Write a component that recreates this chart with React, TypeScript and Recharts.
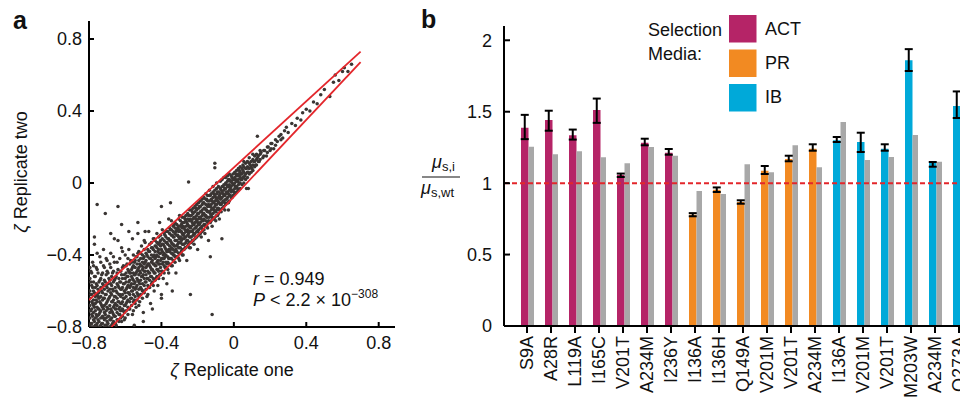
import React from "react";
import {
  ScatterChart,
  Scatter,
  BarChart,
  Bar,
  Cell,
  ErrorBar,
  XAxis,
  YAxis,
  ReferenceLine,
} from "recharts";

// ---- panel a: zeta replicate one (x) vs replicate two (y) ----
const lowerCloud: [number, number][] = [
  [-0.79,-0.78],[-0.79,-0.71],[-0.79,-0.62],[-0.79,-0.55],[-0.79,-0.49],[-0.78,-0.8],[-0.78,-0.74],[-0.78,-0.67],
  [-0.78,-0.58],[-0.78,-0.44],[-0.77,-0.77],[-0.77,-0.69],[-0.77,-0.61],[-0.77,-0.52],[-0.77,-0.34],[-0.76,-0.79],
  [-0.76,-0.73],[-0.76,-0.65],[-0.76,-0.56],[-0.76,-0.47],[-0.75,-0.76],[-0.75,-0.7],[-0.75,-0.63],[-0.75,-0.59],
  [-0.75,-0.5],[-0.74,-0.8],[-0.74,-0.72],[-0.74,-0.66],[-0.74,-0.54],[-0.74,-0.41],[-0.73,-0.78],[-0.73,-0.68],
  [-0.73,-0.6],[-0.73,-0.51],[-0.72,-0.75],[-0.72,-0.7],[-0.72,-0.64],[-0.72,-0.57],[-0.72,-0.46],[-0.72,-0.37],
  [-0.71,-0.79],[-0.71,-0.73],[-0.71,-0.62],[-0.71,-0.55],[-0.7,-0.77],[-0.7,-0.69],[-0.7,-0.66],[-0.7,-0.58],
  [-0.7,-0.49],[-0.7,-0.43],[-0.69,-0.8],[-0.69,-0.74],[-0.69,-0.64],[-0.69,-0.53],[-0.68,-0.76],[-0.68,-0.7],
  [-0.68,-0.61],[-0.68,-0.56],[-0.68,-0.47],[-0.68,-0.39],[-0.67,-0.78],[-0.67,-0.72],[-0.67,-0.66],[-0.67,-0.59],
  [-0.67,-0.5],[-0.66,-0.74],[-0.66,-0.68],[-0.66,-0.63],[-0.66,-0.54],[-0.66,-0.44],[-0.66,-0.31],[-0.65,-0.79],
  [-0.65,-0.7],[-0.65,-0.6],[-0.65,-0.52],[-0.64,-0.76],[-0.64,-0.66],[-0.64,-0.57],[-0.64,-0.48],[-0.63,-0.73],
  [-0.63,-0.69],[-0.63,-0.62],[-0.63,-0.55],[-0.63,-0.42],[-0.62,-0.77],[-0.62,-0.67],[-0.62,-0.59],[-0.62,-0.51],
  [-0.62,-0.36],[-0.61,-0.71],[-0.61,-0.64],[-0.61,-0.56],[-0.61,-0.46],[-0.6,-0.75],[-0.6,-0.68],[-0.6,-0.61],
  [-0.6,-0.53],[-0.6,-0.4],
];

const middleBand: [number, number][] = [
  [-0.59,-0.66],[-0.59,-0.58],[-0.59,-0.52],[-0.59,-0.45],[-0.58,-0.7],[-0.58,-0.61],[-0.58,-0.55],[-0.58,-0.49],
  [-0.58,-0.37],[-0.57,-0.64],[-0.57,-0.57],[-0.57,-0.5],[-0.57,-0.43],[-0.56,-0.73],[-0.56,-0.6],[-0.56,-0.53],
  [-0.56,-0.47],[-0.56,-0.31],[-0.55,-0.65],[-0.55,-0.56],[-0.55,-0.51],[-0.55,-0.44],[-0.54,-0.69],[-0.54,-0.58],
  [-0.54,-0.5],[-0.54,-0.41],[-0.53,-0.62],[-0.53,-0.54],[-0.53,-0.48],[-0.53,-0.39],[-0.53,-0.28],[-0.52,-0.66],
  [-0.52,-0.56],[-0.52,-0.49],[-0.52,-0.45],[-0.51,-0.59],[-0.51,-0.52],[-0.51,-0.46],[-0.51,-0.35],[-0.5,-0.72],
  [-0.5,-0.6],[-0.5,-0.51],[-0.5,-0.47],[-0.5,-0.42],[-0.49,-0.55],[-0.49,-0.49],[-0.49,-0.44],[-0.49,-0.33],
  [-0.48,-0.63],[-0.48,-0.53],[-0.48,-0.46],[-0.48,-0.4],[-0.47,-0.58],[-0.47,-0.5],[-0.47,-0.45],[-0.47,-0.38],
  [-0.47,-0.27],[-0.46,-0.67],[-0.46,-0.52],[-0.46,-0.47],[-0.46,-0.42],[-0.45,-0.55],[-0.45,-0.48],[-0.45,-0.43],
  [-0.45,-0.36],[-0.44,-0.6],[-0.44,-0.5],[-0.44,-0.45],[-0.44,-0.4],[-0.44,-0.31],[-0.43,-0.53],[-0.43,-0.46],
  [-0.43,-0.41],[-0.43,-0.35],[-0.42,-0.57],[-0.42,-0.48],[-0.42,-0.43],[-0.42,-0.38],[-0.41,-0.51],[-0.41,-0.45],
  [-0.41,-0.39],[-0.41,-0.33],[-0.41,-0.22],[-0.4,-0.62],[-0.4,-0.49],[-0.4,-0.42],[-0.4,-0.37],[-0.39,-0.53],
  [-0.39,-0.44],[-0.39,-0.4],[-0.39,-0.34],[-0.38,-0.47],[-0.38,-0.41],[-0.38,-0.36],[-0.38,-0.29],[-0.37,-0.56],
  [-0.37,-0.45],[-0.37,-0.38],[-0.37,-0.33],[-0.36,-0.5],[-0.36,-0.42],[-0.36,-0.37],[-0.36,-0.31],[-0.36,-0.2],
];

const upperBand: [number, number][] = [
  [-0.35,-0.42],[-0.35,-0.37],[-0.35,-0.32],[-0.35,-0.26],[-0.34,-0.46],[-0.34,-0.39],[-0.34,-0.34],[-0.34,-0.29],
  [-0.33,-0.4],[-0.33,-0.35],[-0.33,-0.3],[-0.33,-0.23],[-0.32,-0.5],[-0.32,-0.37],[-0.32,-0.32],[-0.32,-0.27],
  [-0.31,-0.41],[-0.31,-0.34],[-0.31,-0.29],[-0.31,-0.25],[-0.3,-0.43],[-0.3,-0.36],[-0.3,-0.31],[-0.3,-0.26],
  [-0.3,-0.18],[-0.29,-0.38],[-0.29,-0.32],[-0.29,-0.27],[-0.29,-0.23],[-0.28,-0.4],[-0.28,-0.34],[-0.28,-0.29],
  [-0.28,-0.24],[-0.27,-0.36],[-0.27,-0.3],[-0.27,-0.26],[-0.27,-0.2],[-0.26,-0.43],[-0.26,-0.32],[-0.26,-0.27],
  [-0.26,-0.22],[-0.25,-0.34],[-0.25,-0.28],[-0.25,-0.24],[-0.25,-0.18],[-0.24,-0.36],[-0.24,-0.3],[-0.24,-0.25],
  [-0.24,-0.2],[-0.23,-0.32],[-0.23,-0.27],[-0.23,-0.22],[-0.23,-0.16],[-0.22,-0.34],[-0.22,-0.28],[-0.22,-0.23],
  [-0.22,-0.19],[-0.21,-0.3],[-0.21,-0.25],[-0.21,-0.2],[-0.21,-0.14],[-0.2,-0.37],[-0.2,-0.27],[-0.2,-0.22],
  [-0.2,-0.17],[-0.19,-0.28],[-0.19,-0.23],[-0.19,-0.19],[-0.19,-0.13],[-0.18,-0.3],[-0.18,-0.25],[-0.18,-0.2],
  [-0.18,-0.16],[-0.17,-0.26],[-0.17,-0.21],[-0.17,-0.17],[-0.17,-0.11],[-0.16,-0.28],[-0.16,-0.23],[-0.16,-0.18],
  [-0.16,-0.14],[-0.15,-0.24],[-0.15,-0.19],[-0.15,-0.15],[-0.15,-0.09],[-0.14,-0.32],[-0.14,-0.21],[-0.14,-0.16],
  [-0.14,-0.12],[-0.13,-0.22],[-0.13,-0.17],[-0.13,-0.13],[-0.13,-0.07],[-0.12,-0.24],[-0.12,-0.19],[-0.12,-0.14],
  [-0.12,-0.1],[-0.11,-0.2],[-0.11,-0.15],[-0.11,-0.11],[-0.11,-0.06],[-0.1,-0.21],[-0.1,-0.16],[-0.1,-0.12],
  [-0.1,-0.08],
];

const nearZero: [number, number][] = [
  [-0.09,-0.18],[-0.09,-0.14],[-0.09,-0.1],[-0.09,-0.05],[-0.08,-0.2],[-0.08,-0.15],[-0.08,-0.11],[-0.08,-0.07],
  [-0.07,-0.16],[-0.07,-0.12],[-0.07,-0.08],[-0.07,-0.04],[-0.06,-0.14],[-0.06,-0.1],[-0.06,-0.06],[-0.06,-0.02],
  [-0.05,-0.15],[-0.05,-0.11],[-0.05,-0.07],[-0.05,-0.03],[-0.04,-0.09],[-0.04,-0.05],[-0.04,-0.01],[-0.03,-0.11],
  [-0.03,-0.06],[-0.03,-0.02],[-0.03,0.02],[-0.02,-0.07],[-0.02,-0.03],[-0.02,0.01],[-0.01,-0.08],[-0.01,-0.04],
  [-0.01,0],[-0.01,0.03],[0,-0.05],[0,-0.01],[0,0.02],[0.01,-0.02],[0.01,0.02],[0.01,0.05],[0.02,-0.03],
  [0.02,0.01],[0.02,0.04],[0.03,0],[0.03,0.04],[0.03,0.07],[0.04,0.02],[0.04,0.05],[0.05,0.03],[0.05,0.07],
  [0.05,0.1],
];

// extra columns of the dense core: [zeta one, zeta two values at that x]
const coreColumns: [number, number[]][] = [
  [-0.795, [-0.79,-0.75,-0.71,-0.68,-0.64,-0.6,-0.53,-0.47]],
  [-0.785, [-0.78,-0.73,-0.7,-0.66,-0.62,-0.57,-0.5]],
  [-0.775, [-0.8,-0.76,-0.72,-0.68,-0.65,-0.6,-0.55,-0.46]],
  [-0.765, [-0.79,-0.75,-0.71,-0.67,-0.63,-0.58,-0.52]],
  [-0.755, [-0.78,-0.74,-0.69,-0.66,-0.62,-0.57,-0.48,-0.39]],
  [-0.745, [-0.8,-0.77,-0.73,-0.7,-0.64,-0.61,-0.55]],
  [-0.735, [-0.79,-0.75,-0.71,-0.67,-0.63,-0.58,-0.53,-0.44]],
  [-0.725, [-0.78,-0.74,-0.69,-0.65,-0.61,-0.56,-0.5]],
  [-0.715, [-0.8,-0.76,-0.72,-0.68,-0.64,-0.59,-0.54,-0.47]],
  [-0.705, [-0.79,-0.75,-0.71,-0.67,-0.62,-0.57,-0.51,-0.42]],
  [-0.695, [-0.78,-0.74,-0.7,-0.65,-0.6,-0.56,-0.5]],
  [-0.685, [-0.8,-0.76,-0.72,-0.68,-0.63,-0.59,-0.54,-0.45]],
  [-0.675, [-0.79,-0.75,-0.71,-0.66,-0.62,-0.57,-0.52]],
  [-0.665, [-0.77,-0.73,-0.69,-0.65,-0.6,-0.55,-0.49,-0.41]],
  [-0.655, [-0.78,-0.74,-0.7,-0.67,-0.63,-0.58,-0.53]],
  [-0.645, [-0.76,-0.72,-0.68,-0.64,-0.61,-0.56,-0.5,-0.44]],
  [-0.635, [-0.77,-0.73,-0.7,-0.66,-0.62,-0.58,-0.53]],
  [-0.625, [-0.75,-0.71,-0.67,-0.63,-0.59,-0.55,-0.49]],
  [-0.615, [-0.74,-0.7,-0.66,-0.62,-0.58,-0.53,-0.47,-0.38]],
  [-0.605, [-0.76,-0.72,-0.68,-0.64,-0.6,-0.56,-0.51]],
  [-0.595, [-0.71,-0.67,-0.63,-0.59,-0.55,-0.5,-0.46]],
  [-0.585, [-0.73,-0.69,-0.65,-0.61,-0.57,-0.52,-0.48,-0.42]],
  [-0.575, [-0.7,-0.66,-0.62,-0.58,-0.54,-0.5,-0.45]],
  [-0.565, [-0.68,-0.64,-0.6,-0.56,-0.52,-0.48,-0.44]],
  [-0.555, [-0.71,-0.66,-0.62,-0.58,-0.54,-0.5,-0.46,-0.4]],
  [-0.545, [-0.67,-0.63,-0.59,-0.55,-0.51,-0.47,-0.43]],
  [-0.535, [-0.65,-0.61,-0.57,-0.53,-0.49,-0.45,-0.41]],
  [-0.525, [-0.68,-0.63,-0.59,-0.55,-0.51,-0.47,-0.43,-0.38]],
  [-0.515, [-0.62,-0.58,-0.54,-0.5,-0.46,-0.42,-0.39]],
  [-0.505, [-0.64,-0.6,-0.56,-0.52,-0.48,-0.44,-0.4]],
  [-0.495, [-0.61,-0.57,-0.53,-0.49,-0.45,-0.41,-0.37,-0.32]],
  [-0.485, [-0.59,-0.55,-0.51,-0.47,-0.43,-0.39]],
  [-0.475, [-0.62,-0.57,-0.53,-0.49,-0.45,-0.41,-0.37]],
  [-0.465, [-0.58,-0.54,-0.5,-0.46,-0.42,-0.38,-0.34]],
  [-0.455, [-0.56,-0.52,-0.48,-0.44,-0.4,-0.36,-0.33]],
  [-0.445, [-0.57,-0.53,-0.49,-0.45,-0.41,-0.37,-0.31]],
  [-0.435, [-0.54,-0.5,-0.46,-0.42,-0.38,-0.35,-0.32]],
  [-0.425, [-0.52,-0.48,-0.44,-0.4,-0.36,-0.33,-0.28]],
  [-0.415, [-0.53,-0.49,-0.45,-0.41,-0.37,-0.34,-0.3]],
  [-0.405, [-0.51,-0.47,-0.43,-0.39,-0.35,-0.32,-0.29]],
  [-0.395, [-0.49,-0.45,-0.42,-0.38,-0.34,-0.31,-0.26]],
  [-0.385, [-0.5,-0.46,-0.42,-0.39,-0.35,-0.32,-0.28]],
  [-0.375, [-0.47,-0.44,-0.4,-0.37,-0.33,-0.3,-0.27]],
  [-0.365, [-0.48,-0.44,-0.41,-0.38,-0.34,-0.31,-0.27]],
  [-0.355, [-0.45,-0.42,-0.38,-0.35,-0.32,-0.28,-0.25]],
  [-0.345, [-0.46,-0.42,-0.39,-0.36,-0.33,-0.29,-0.26,-0.21]],
  [-0.335, [-0.43,-0.4,-0.37,-0.34,-0.3,-0.27,-0.24]],
  [-0.325, [-0.44,-0.41,-0.38,-0.35,-0.32,-0.28,-0.25,-0.22]],
  [-0.315, [-0.41,-0.38,-0.35,-0.32,-0.29,-0.26,-0.23]],
  [-0.305, [-0.42,-0.39,-0.36,-0.33,-0.3,-0.27,-0.24,-0.2]],
  [-0.295, [-0.39,-0.36,-0.33,-0.3,-0.27,-0.24,-0.21]],
  [-0.285, [-0.4,-0.37,-0.34,-0.31,-0.28,-0.25,-0.22,-0.19]],
  [-0.275, [-0.37,-0.34,-0.31,-0.28,-0.25,-0.22,-0.19]],
  [-0.265, [-0.36,-0.33,-0.3,-0.27,-0.24,-0.21,-0.18]],
  [-0.255, [-0.35,-0.32,-0.29,-0.26,-0.23,-0.2,-0.17]],
  [-0.245, [-0.36,-0.33,-0.3,-0.27,-0.24,-0.21,-0.18,-0.15]],
  [-0.235, [-0.33,-0.3,-0.27,-0.24,-0.21,-0.18,-0.15]],
  [-0.225, [-0.32,-0.29,-0.26,-0.23,-0.2,-0.17,-0.14]],
  [-0.215, [-0.31,-0.28,-0.25,-0.22,-0.19,-0.16,-0.13]],
  [-0.205, [-0.3,-0.27,-0.24,-0.21,-0.18,-0.15,-0.12]],
  [-0.195, [-0.29,-0.26,-0.23,-0.2,-0.17,-0.14,-0.11]],
  [-0.185, [-0.28,-0.25,-0.22,-0.19,-0.16,-0.13,-0.1]],
  [-0.175, [-0.27,-0.24,-0.21,-0.18,-0.15,-0.12,-0.09]],
  [-0.165, [-0.26,-0.23,-0.2,-0.17,-0.14,-0.11,-0.08]],
  [-0.155, [-0.24,-0.21,-0.18,-0.15,-0.12,-0.09,-0.06]],
  [-0.145, [-0.25,-0.22,-0.19,-0.16,-0.13,-0.1,-0.07]],
  [-0.135, [-0.22,-0.19,-0.16,-0.13,-0.1,-0.07,-0.04]],
  [-0.125, [-0.21,-0.18,-0.15,-0.12,-0.09,-0.06]],
  [-0.115, [-0.2,-0.17,-0.14,-0.11,-0.08,-0.05,-0.02]],
  [-0.105, [-0.19,-0.16,-0.13,-0.1,-0.07,-0.04]],
  [-0.095, [-0.18,-0.15,-0.12,-0.09,-0.06,-0.03,0]],
  [-0.085, [-0.17,-0.14,-0.11,-0.08,-0.05,-0.02]],
  [-0.075, [-0.15,-0.12,-0.09,-0.06,-0.03,0.01]],
  [-0.065, [-0.14,-0.11,-0.08,-0.05,-0.02,0.02]],
  [-0.055, [-0.13,-0.1,-0.07,-0.04,-0.01,0.03]],
  [-0.045, [-0.12,-0.09,-0.06,-0.03,0,0.03]],
  [-0.035, [-0.11,-0.08,-0.05,-0.02,0.01,0.04]],
  [-0.025, [-0.1,-0.07,-0.04,-0.01,0.02,0.05]],
  [-0.015, [-0.08,-0.05,-0.02,0.01,0.04]],
  [-0.005, [-0.07,-0.04,-0.01,0.02,0.05]],
  [0.005, [-0.06,-0.03,0,0.03,0.06]],
  [0.015, [-0.05,-0.02,0.01,0.04,0.07]],
  [0.025, [-0.04,-0.01,0.02,0.05,0.08]],
  [0.035, [-0.03,0,0.03,0.06,0.09]],
  [0.045, [-0.01,0.02,0.05,0.08]],
  [0.055, [0,0.03,0.06,0.09,0.12]],
  [0.065, [0.02,0.05,0.08,0.11]],
  [0.075, [0.03,0.06,0.09,0.12]],
  [0.085, [0.05,0.08,0.11,0.14]],
  [0.095, [0.06,0.09,0.12]],
  [0.105, [0.07,0.1,0.13,0.16]],
  [0.115, [0.09,0.12,0.15]],
  [0.125, [0.1,0.13,0.16]],
  [0.135, [0.12,0.15]],
  [0.145, [0.13,0.16,0.18]],
  [0.165, [0.15,0.18]],
  [0.185, [0.17,0.2]],
  [0.205, [0.19,0.22]],
  [0.23, [0.21,0.24]],
  [0.26, [0.24,0.27]],
];

const upperTail: [number, number][] = [
  [0.06,0.04],[0.07,0.08],[0.08,0.06],[0.09,0.1],[0.1,0.08],[0.11,0.12],[0.12,0.1],[0.13,0.14],[0.14,0.12],
  [0.15,0.17],[0.16,0.14],[0.17,0.18],[0.18,0.15],[0.19,0.2],[0.2,0.18],[0.21,0.22],[0.22,0.19],[0.24,0.23],
  [0.25,0.26],[0.27,0.25],[0.28,0.29],[0.29,0.31],[0.3,0.28],[0.32,0.33],[0.34,0.32],[0.35,0.36],[0.37,0.35],
  [0.38,0.39],[0.4,0.41],[0.42,0.4],[0.44,0.45],[0.46,0.44],[0.48,0.49],[0.5,0.52],[0.53,0.48],[0.55,0.56],
  [0.56,0.6],[0.58,0.57],[0.6,0.62],[0.61,0.64],[0.63,0.62],[0.65,0.66],
];

const stragglers: [number, number][] = [
  [-0.755,-0.12],[-0.64,-0.13],[-0.71,-0.17],[-0.62,-0.23],[-0.64,-0.32],[-0.53,-0.22],[-0.49,-0.27],[-0.4,-0.13],
  [-0.35,-0.11],[-0.25,0.005],[-0.105,0.11],[-0.105,0.085],[0.13,0.26],[0.07,-0.03],[0.08,-0.03],[-0.03,-0.15],
  [-0.12,-0.73],[-0.066,-0.31],[-0.24,-0.62],[-0.13,-0.41],[-0.34,-0.6],[-0.4,-0.64],[-0.45,-0.7],[-0.5,-0.77],
  [-0.55,-0.79],[-0.77,-0.3],[-0.68,-0.28],[-0.58,-0.27],
];

const upperFit: [number, number][] = [[-0.8, -0.65], [0.7, 0.73]];
const lowerFit: [number, number][] = [[-0.676, -0.8], [0.7, 0.672]];
const zetaTicks = [-0.8, -0.4, 0, 0.4, 0.8];

// ---- panel b: mu_s,i / mu_s,wt per mutant ----
const mutants = ["S9A","A28R","L119A","I165C","V201T","A234M","I236Y","I136A","I136H","Q149A","V201M","V201T","A234M","I136A","V201M","V201T","M203W","A234M","Q273A"];
const media = ["ACT","ACT","ACT","ACT","ACT","ACT","ACT","PR","PR","PR","PR","PR","PR","IB","IB","IB","IB","IB","IB"];
const selected = [1.388,1.442,1.335,1.512,1.057,1.283,1.213,0.779,0.954,0.868,1.087,1.169,1.241,1.3,1.288,1.241,1.861,1.141,1.54];
const errLow = [0.08,0.075,0.03,0.09,0.014,0.018,0.014,0.011,0.016,0.012,0.023,0.016,0.014,0.012,0.07,0.014,0.076,0.026,0.084];
const errHigh = [0.09,0.065,0.04,0.08,0.01,0.028,0.026,0.011,0.016,0.012,0.033,0.023,0.031,0.023,0.065,0.031,0.077,0.007,0.102];
const unselected = [1.255,1.202,1.223,1.181,1.139,1.253,1.192,0.945,0.924,1.132,1.076,1.265,1.111,1.428,1.162,1.183,1.337,1.15,1.162];
const ratioTicks = [0, 0.5, 1, 1.5, 2];

const mediaColors: Record<string, string> = { ACT: "#b52467", PR: "#f28a22", IB: "#00a9d9" };
const FONT = "'Liberation Sans', Arial, Helvetica, sans-serif";

const toPoints = (arr: [number, number][]) => arr.map(([x, y]) => ({ x, y }));
const cloud = [
  ...lowerCloud,
  ...middleBand,
  ...upperBand,
  ...nearZero,
  ...coreColumns.flatMap(([x, ys]) => ys.map((y) => [x, y] as [number, number])),
  ...upperTail,
  ...stragglers,
].map(([x, y]) => ({ x, y }));

const barData = mutants.map((m, i) => ({
  mutant: m,
  medium: media[i],
  value: selected[i],
  err: [errLow[i], errHigh[i]],
  gray: unselected[i],
}));

const fmtZeta = (v: number) => (v === 0 ? "0" : (v < 0 ? "\u2212" : "") + Math.abs(v).toFixed(1));

const Dot = (p: any) => <circle cx={p.cx} cy={p.cy} r={1.75} fill="#3a3533" />;
const NoDot = () => <g />;

const MutantTick = (p: any) => (
  <g transform={`translate(${p.x},${p.y})`}>
    <text transform="rotate(-90)" textAnchor="end" dy="0.33em" fontSize={18} fill="#111">
      {p.payload.value}
    </text>
  </g>
);

const axisStroke = { stroke: "#000", strokeWidth: 2 };

export default function App() {
  return (
    <div style={{ position: "relative", width: 968, height: 405, margin: -8, overflow: "hidden", background: "#fff", fontFamily: FONT }}>
      <div style={{ position: "absolute", left: 0, top: 0 }}>
        <ScatterChart width={400} height={405} margin={{ top: 21, right: 5, bottom: 38, left: 0 }}>
          <XAxis
            type="number"
            dataKey="x"
            domain={[-0.8, 0.89]}
            ticks={zetaTicks}
            allowDataOverflow
            tickFormatter={fmtZeta}
            tick={{ fontSize: 18, fill: "#111" }}
            axisLine={axisStroke}
            tickLine={axisStroke}
            tickSize={-5}
            tickMargin={14}
            height={40}
          />
          <YAxis
            type="number"
            dataKey="y"
            domain={[-0.8, 0.9]}
            ticks={zetaTicks}
            allowDataOverflow
            tickFormatter={fmtZeta}
            tick={{ fontSize: 18, fill: "#111" }}
            axisLine={axisStroke}
            tickLine={axisStroke}
            tickSize={-5}
            tickMargin={12}
            width={89}
          />
          <Scatter data={cloud} shape={Dot} isAnimationActive={false} />
          <Scatter data={toPoints(upperFit)} shape={NoDot} line={{ stroke: "#e3262b", strokeWidth: 1.8 }} isAnimationActive={false} />
          <Scatter data={toPoints(lowerFit)} shape={NoDot} line={{ stroke: "#e3262b", strokeWidth: 1.8 }} isAnimationActive={false} />
        </ScatterChart>
      </div>

      <div style={{ position: "absolute", left: 420, top: 0 }}>
        <BarChart width={560} height={405} data={barData} barGap={0} margin={{ top: 26, right: 9, bottom: 4, left: 0 }}>
          <XAxis
            dataKey="mutant"
            interval={0}
            padding={{ left: 11, right: 0 }}
            tick={MutantTick}
            axisLine={axisStroke}
            tickLine={axisStroke}
            tickSize={7}
            tickMargin={3}
            height={75}
          />
          <YAxis
            type="number"
            domain={[0, 2.1]}
            ticks={ratioTicks}
            allowDataOverflow
            tick={{ fontSize: 18, fill: "#111" }}
            axisLine={axisStroke}
            tickLine={axisStroke}
            tickSize={-6}
            tickMargin={18}
            width={84}
          />
          <Bar dataKey="value" barSize={7.5} isAnimationActive={false}>
            {barData.map((d, i) => (
              <Cell key={`sel-${i}`} fill={mediaColors[d.medium]} />
            ))}
            <ErrorBar dataKey="err" width={4} strokeWidth={2} stroke="#000" direction="y" isAnimationActive={false} />
          </Bar>
          <Bar dataKey="gray" barSize={5.5} fill="#a8a8a8" isAnimationActive={false} />
          <ReferenceLine y={1} stroke="#e3262b" strokeWidth={2} strokeDasharray="5 3" />
        </BarChart>
      </div>

      <svg width={968} height={405} style={{ position: "absolute", left: 0, top: 0, pointerEvents: "none" }} fontFamily={FONT} fill="#111">
        <text x={13} y={29} fontSize={25} fontWeight="bold">a</text>
        <text x={421} y={28} fontSize={25} fontWeight="bold">b</text>

        <text transform="translate(27,172) rotate(-90)" textAnchor="middle" fontSize={18}>
          <tspan fontStyle="italic">ζ</tspan> Replicate two
        </text>
        <text x={232} y={376} textAnchor="middle" fontSize={18}>
          <tspan fontStyle="italic">ζ</tspan> Replicate one
        </text>
        <text x={253} y={285} fontSize={18}>
          <tspan fontStyle="italic">r</tspan> = 0.949
        </text>
        <text x={253} y={306} fontSize={18}>
          <tspan fontStyle="italic">P</tspan> {"< 2.2 × 10"}
          <tspan fontSize={12} dy={-8}>{"\u2212308"}</tspan>
        </text>

        <text x={432} y={168} fontSize={18}>
          <tspan fontStyle="italic">μ</tspan>
          <tspan fontSize={13} dy={3}>s,i</tspan>
        </text>
        <line x1={422} x2={460} y1={177} y2={177} stroke="#111" strokeWidth={1.2} />
        <text x={421} y={194} fontSize={18}>
          <tspan fontStyle="italic">μ</tspan>
          <tspan fontSize={13} dy={3}>s,wt</tspan>
        </text>

        <text x={648} y={36} fontSize={18}>Selection</text>
        <text x={648} y={60} fontSize={18}>Media:</text>
        {["ACT", "PR", "IB"].map((m, i) => (
          <g key={m}>
            <rect x={729} y={15 + i * 34.5} width={27.5} height={27.5} fill={mediaColors[m]} />
            <text x={765} y={35 + i * 34} fontSize={18}>{m}</text>
          </g>
        ))}
      </svg>
    </div>
  );
}
